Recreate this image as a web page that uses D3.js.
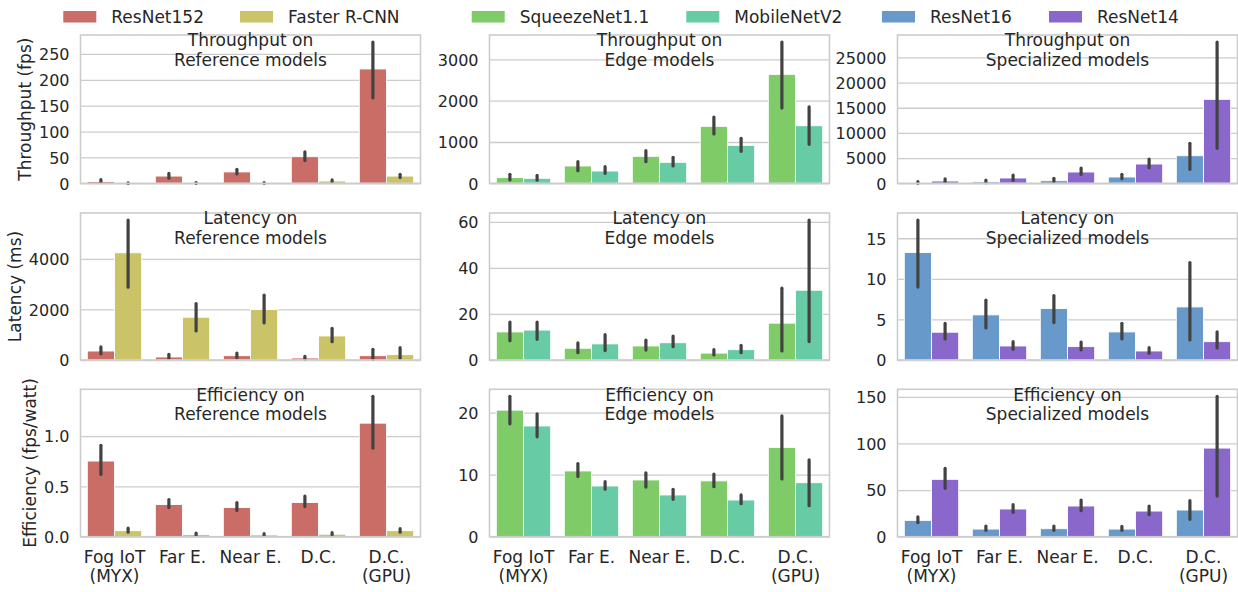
<!DOCTYPE html>
<html>
<head>
<meta charset="utf-8">
<script src="https://cdn.jsdelivr.net/npm/d3@7"></script>
<style>
  html, body { margin: 0; padding: 0; background: #fff; }
  svg text { font-family: "DejaVu Sans", sans-serif; fill: #262626; }
</style>
</head>
<body>
<svg id="chart" width="1238" height="592"></svg>
<script>
// ---- data ----
const categories = ["Fog IoT\n(MYX)", "Far E.", "Near E.", "D.C.", "D.C.\n(GPU)"];

const seriesNames = ["ResNet152", "Faster R-CNN", "SqueezeNet1.1", "MobileNetV2", "ResNet16", "ResNet14"];
const seriesColors = ["#cb6d67", "#cbc367", "#7ecb67", "#67cba6", "#679acb", "#8a67cb"];

const rowMetrics = ["Throughput", "Latency", "Efficiency"];
const rowYLabels = ["Throughput (fps)", "Latency (ms)", "Efficiency (fps/watt)"];
const colGroups = ["Reference models", "Edge models", "Specialized models"];

// Throughput (fps)
const resnet152Thr = [3.5, 14, 22, 51.5, 221];
const resnet152ThrErr = [[2, 7], [10, 19], [18, 27], [44, 61], [165, 273]];
const fasterThr = [0.5, 0.7, 0.8, 4.5, 14];
const fasterThrErr = [[0.2, 1.0], [0.3, 1.2], [0.4, 1.5], [3, 6.5], [11, 17.5]];
const squeezeThr = [137, 419, 653, 1379, 2637];
const squeezeThrErr = [[80, 218], [305, 523], [523, 789], [1193, 1604], [1822, 3419]];
const mobileThr = [121, 298, 508, 919, 1394];
const mobileThrErr = [[75, 190], [242, 402], [419, 629], [774, 1089], [944, 1853]];
const resnet16Thr = [150, 300, 520, 1250, 5476];
const resnet16ThrErr = [[40, 320], [130, 650], [330, 1000], [913, 1786], [2778, 7937]];
const resnet14Thr = [456, 1052, 2242, 3829, 16667];
const resnet14ThrErr = [[150, 900], [595, 1650], [1786, 3034], [3095, 4821], [6944, 28036]];

// Latency (ms)
const resnet152Lat = [356, 119, 172, 80, 172];
const resnet152LatErr = [[238, 515], [67, 225], [92, 277], [26, 145], [26, 422]];
const fasterLat = [4238, 1690, 1993, 950, 211];
const fasterLatErr = [[2878, 5533], [1149, 2231], [1465, 2562], [726, 1254], [66, 488]];
const squeezeLat = [12.2, 5.1, 6.1, 3.0, 16.0];
const squeezeLatErr = [[8.4, 16.5], [3.2, 7.5], [4.3, 8.6], [2.2, 4.5], [3.9, 31.2]];
const mobileLat = [13.0, 7.0, 7.5, 4.5, 30.3];
const mobileLatErr = [[9.0, 16.5], [4.1, 11.0], [5.8, 10.4], [3.2, 6.4], [8.0, 60.8]];
const resnet16Lat = [13.25, 5.56, 6.34, 3.46, 6.54];
const resnet16LatErr = [[8.98, 17.25], [3.95, 7.37], [4.61, 7.94], [2.6, 4.53], [2.47, 12.0]];
const resnet14Lat = [3.42, 1.73, 1.65, 1.11, 2.26];
const resnet14LatErr = [[2.6, 4.53], [1.32, 2.26], [1.23, 2.22], [0.82, 1.52], [1.48, 3.46]];

// Efficiency (fps/watt)
const resnet152Eff = [0.753, 0.32, 0.29, 0.34, 1.13];
const resnet152EffErr = [[0.62, 0.91], [0.29, 0.37], [0.26, 0.34], [0.30, 0.405], [0.88, 1.397]];
const fasterEff = [0.06, 0.022, 0.018, 0.025, 0.06];
const fasterEffErr = [[0.045, 0.085], [0.015, 0.035], [0.012, 0.03], [0.018, 0.04], [0.045, 0.08]];
const squeezeEff = [20.4, 10.6, 9.15, 9.0, 14.4];
const squeezeEffErr = [[18.2, 22.63], [9.7, 11.8], [8.0, 10.3], [8.06, 10.1], [9.3, 19.5]];
const mobileEff = [17.85, 8.18, 6.73, 5.92, 8.71];
const mobileEffErr = [[16.1, 19.8], [7.65, 8.87], [6.03, 7.65], [5.32, 6.73], [5.0, 12.37]];
const resnet16Eff = [17.5, 8.2, 8.6, 8.2, 28.6];
const resnet16EffErr = [[15, 21.4], [6.8, 11.4], [6.8, 11.4], [6.8, 11], [18.6, 38.6]];
const resnet14Eff = [61.5, 29.7, 32.9, 27.5, 95.0];
const resnet14EffErr = [[51.9, 73.3], [26.1, 34.3], [27.9, 39.3], [23.6, 32.9], [43.6, 150.5]];

// y tick values / labels per panel [row][col]
const yTicks = [
  [[0, 50, 100, 150, 200, 250], [0, 1000, 2000, 3000], [0, 5000, 10000, 15000, 20000, 25000]],
  [[0, 2000, 4000], [0, 20, 40, 60], [0, 5, 10, 15]],
  [[0, 0.5, 1.0], [0, 10, 20], [0, 50, 100, 150]]
];
const yTickLabels = [
  [["0", "50", "100", "150", "200", "250"], ["0", "1000", "2000", "3000"], ["0", "5000", "10000", "15000", "20000", "25000"]],
  [["0", "2000", "4000"], ["0", "20", "40", "60"], ["0", "5", "10", "15"]],
  [["0.0", "0.5", "1.0"], ["0", "10", "20"], ["0", "50", "100", "150"]]
];

// panel contents: [row][col] -> two series (index into seriesNames, values, errors)
const panels = [
  [
    [[0, resnet152Thr, resnet152ThrErr], [1, fasterThr, fasterThrErr]],
    [[2, squeezeThr, squeezeThrErr], [3, mobileThr, mobileThrErr]],
    [[4, resnet16Thr, resnet16ThrErr], [5, resnet14Thr, resnet14ThrErr]]
  ],
  [
    [[0, resnet152Lat, resnet152LatErr], [1, fasterLat, fasterLatErr]],
    [[2, squeezeLat, squeezeLatErr], [3, mobileLat, mobileLatErr]],
    [[4, resnet16Lat, resnet16LatErr], [5, resnet14Lat, resnet14LatErr]]
  ],
  [
    [[0, resnet152Eff, resnet152EffErr], [1, fasterEff, fasterEffErr]],
    [[2, squeezeEff, squeezeEffErr], [3, mobileEff, mobileEffErr]],
    [[4, resnet16Eff, resnet16EffErr], [5, resnet14Eff, resnet14EffErr]]
  ]
];

// ---- layout ----
const colLeft = [80.5, 489.5, 897.5];
const panelW = 340;
const rowTop = [35, 213, 389.3];
const rowBottom = [183.3, 360, 536.7];
const gridColor = "#cccccc";
const errColor = "#424242";

const svg = d3.select("#chart");

rowMetrics.forEach((metric, r) => {
  colGroups.forEach((group, c) => {
    const left = colLeft[c], top = rowTop[r], bottom = rowBottom[r];
    const series = panels[r][c];
    const ymax = d3.max(series, s => d3.max(s[2], e => e[1])) * 1.05;

    const x = d3.scaleBand().domain(d3.range(categories.length))
      .range([left, left + panelW]).paddingInner(0.2).paddingOuter(0.1);
    const xs = d3.scaleBand().domain(d3.range(series.length)).range([0, x.bandwidth()]);
    const y = d3.scaleLinear().domain([0, ymax]).range([bottom, top]);

    const g = svg.append("g");

    // horizontal grid + y tick labels
    const yAxis = d3.axisLeft(y).tickValues(yTicks[r][c])
      .tickFormat((d, i) => yTickLabels[r][c][i])
      .tickSize(-panelW).tickPadding(11);
    const ya = g.append("g").attr("transform", `translate(${left},0)`).call(yAxis);
    ya.select(".domain").remove();
    ya.selectAll(".tick line").attr("stroke", gridColor).attr("stroke-width", 1.3);
    ya.selectAll(".tick text").style("font-size", "16px").attr("dy", "0.36em");

    // bars
    series.forEach((s, k) => {
      const [si, vals] = s;
      g.append("g").selectAll("rect").data(vals).join("rect")
        .attr("x", (d, i) => x(i) + xs(k))
        .attr("width", xs.bandwidth())
        .attr("y", d => y(d))
        .attr("height", d => bottom - y(d))
        .attr("fill", seriesColors[si])
        .attr("stroke", "#ffffff").attr("stroke-width", 0.9);
    });

    // error bars
    series.forEach((s, k) => {
      const errs = s[2];
      g.append("g").selectAll("line").data(errs).join("line")
        .attr("x1", (d, i) => x(i) + xs(k) + xs.bandwidth() / 2)
        .attr("x2", (d, i) => x(i) + xs(k) + xs.bandwidth() / 2)
        .attr("y1", d => y(d[0]))
        .attr("y2", d => y(d[1]))
        .attr("stroke", errColor).attr("stroke-width", 3.2)
        .attr("stroke-linecap", "round");
    });

    // frame
    g.append("rect").attr("x", left).attr("y", top)
      .attr("width", panelW).attr("height", bottom - top)
      .attr("fill", "none").attr("stroke", gridColor).attr("stroke-width", 1.6);

    // panel title (two lines)
    const t = g.append("text").attr("text-anchor", "middle").style("font-size", "17px");
    t.append("tspan").attr("x", left + panelW / 2).attr("y", top + 11.2).text(`${metric} on`);
    t.append("tspan").attr("x", left + panelW / 2).attr("y", top + 30.6).text(group);

    // category labels on the bottom row
    if (r === rowMetrics.length - 1) {
      const xAxis = d3.axisBottom(x).tickSize(0).tickFormat("");
      const xa = g.append("g").attr("transform", `translate(0,${bottom})`).call(xAxis);
      xa.select(".domain").remove();
      xa.selectAll(".tick").each(function(d) {
        const lines = categories[d].split("\n");
        const tx = d3.select(this).append("text").attr("text-anchor", "middle")
          .style("font-size", "17px");
        lines.forEach((ln, li) => {
          tx.append("tspan").attr("x", 0).attr("y", 26 + li * 19.6).text(ln);
        });
      });
    }

    // y label on the first column
    if (c === 0) {
      const minX = d3.min(ya.selectAll(".tick text").nodes(), n => n.getBBox().x) + left;
      g.append("text")
        .attr("transform", `translate(${minX - 7.8},${(top + bottom) / 2}) rotate(-90)`)
        .attr("text-anchor", "middle").style("font-size", "17px")
        .text(rowYLabels[r]);
    }
  });
});

// ---- legend ----
const legendX = [63.3, 240, 471.7, 686.3, 882, 1049];
const legend = svg.append("g");
seriesNames.forEach((name, i) => {
  legend.append("rect").attr("x", legendX[i]).attr("y", 11)
    .attr("width", 33).attr("height", 11.5).attr("fill", seriesColors[i]);
  legend.append("text").attr("x", legendX[i] + 48).attr("y", 22.5)
    .style("font-size", "17px").text(name);
});
</script>
</body>
</html>
